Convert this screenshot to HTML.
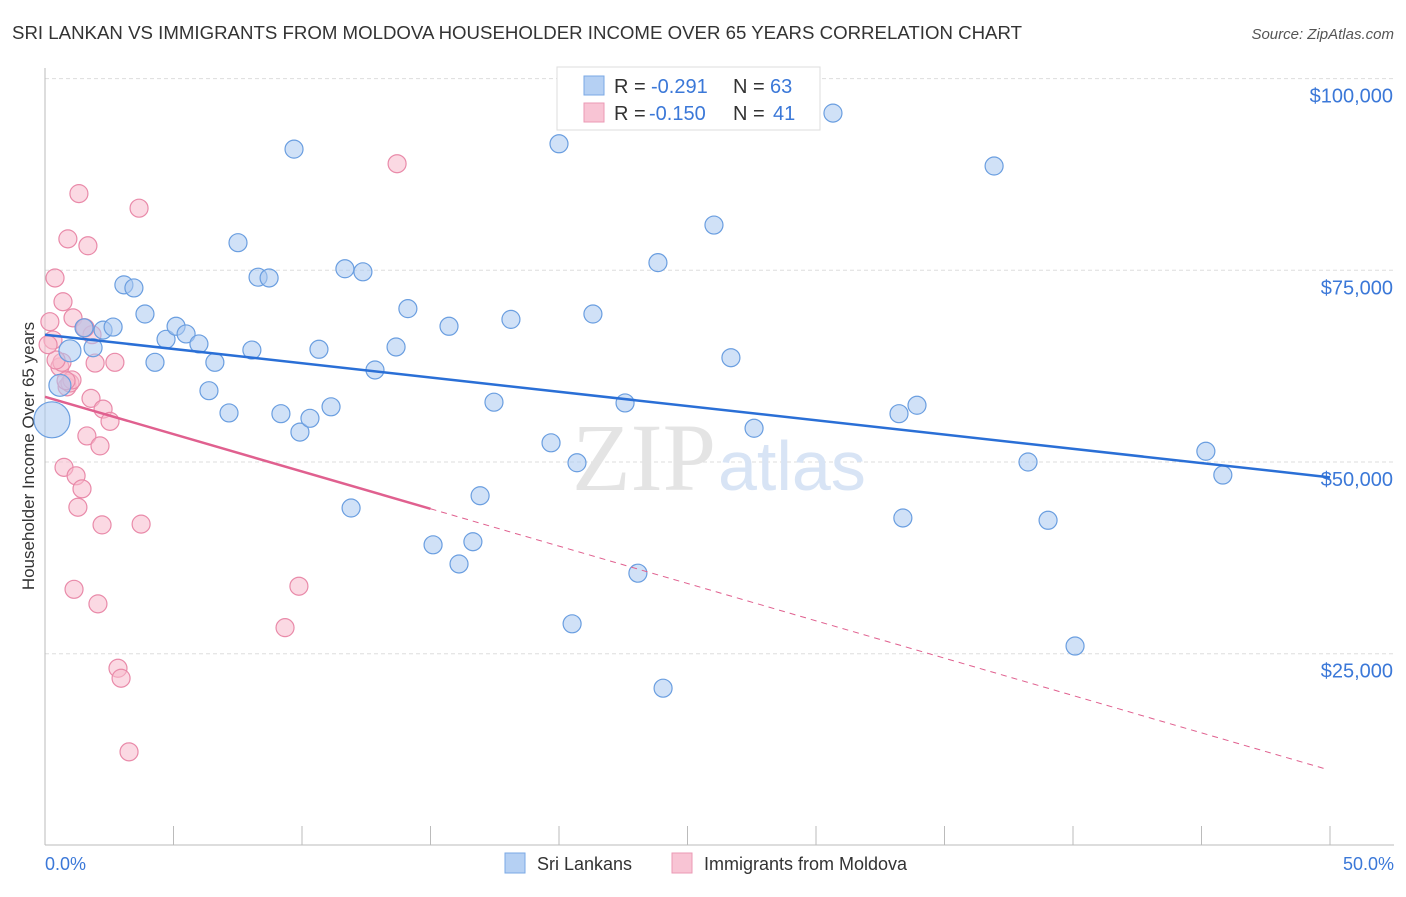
<!DOCTYPE html>
<html><head><meta charset="utf-8"><style>
body{margin:0;background:#fff;font-family:"Liberation Sans",sans-serif}
</style></head><body>
<svg id="chart" width="1406" height="892" xmlns="http://www.w3.org/2000/svg" font-family="Liberation Sans, sans-serif">
<text x="12" y="39" font-size="18" fill="#333" textLength="1010" lengthAdjust="spacingAndGlyphs">SRI LANKAN VS IMMIGRANTS FROM MOLDOVA HOUSEHOLDER INCOME OVER 65 YEARS CORRELATION CHART</text>
<text x="1394" y="39" font-size="15" fill="#555" text-anchor="end" font-style="italic">Source: ZipAtlas.com</text>
<g id="grid"></g>
<text x="716" y="490" font-size="96" fill="#e4e4e4" text-anchor="end" font-family="Liberation Serif, serif">ZIP</text>
<text x="718" y="490" font-size="70" fill="#d8e4f5">atlas</text>
<line x1="45" y1="68" x2="45" y2="845" stroke="#bbb"/>
<line x1="45" y1="845" x2="1394" y2="845" stroke="#bbb"/>
<g id="ticks"></g>
<text transform="translate(34,456) rotate(-90)" font-size="17" fill="#333" text-anchor="middle">Householder Income Over 65 years</text>
<text x="45" y="870" font-size="18" fill="#3b78d8">0.0%</text>
<text x="1394" y="870" font-size="18" fill="#3b78d8" text-anchor="end">50.0%</text>
<g id="pts"></g>
<g id="trends"></g>
<g>
<rect x="557" y="67" width="263" height="63" fill="#fff" stroke="#ddd"/>
<rect x="584" y="76" width="20" height="19" fill="#b5d0f3" stroke="#7aa8e6"/>
<rect x="584" y="103" width="20" height="19" fill="#f8c4d4" stroke="#eb9ab5"/>
<text x="614" y="93" font-size="20" fill="#333">R =</text>
<text x="651" y="93" font-size="20" fill="#3b78d8">-0.291</text>
<text x="733" y="93" font-size="20" fill="#333">N =</text>
<text x="770" y="93" font-size="20" fill="#3b78d8">63</text>
<text x="614" y="120" font-size="20" fill="#333">R =</text>
<text x="649" y="120" font-size="20" fill="#3b78d8">-0.150</text>
<text x="733" y="120" font-size="20" fill="#333">N =</text>
<text x="773" y="120" font-size="20" fill="#3b78d8">41</text>
</g>
<g>
<rect x="505" y="853" width="20" height="20" fill="#b5d0f3" stroke="#7aa8e6"/>
<text x="537" y="870" font-size="18" fill="#333">Sri Lankans</text>
<rect x="672" y="853" width="20" height="20" fill="#f8c4d4" stroke="#eb9ab5"/>
<text x="704" y="870" font-size="18" fill="#333">Immigrants from Moldova</text>
</g>
</svg>
<script>
const yTicks=[25,50,75,100];
const blueX=[0.27,0.97,0.58,1.52,1.87,2.26,2.65,3.07,3.46,3.89,4.28,4.71,5.10,5.49,5.99,6.61,6.38,7.16,7.51,8.05,8.29,8.72,9.18,9.69,9.92,10.31,10.66,11.13,11.67,11.91,12.37,12.84,13.66,14.12,15.10,15.72,16.11,16.65,16.93,17.47,18.13,19.69,20.00,20.51,20.70,21.32,22.57,23.07,23.85,24.05,26.03,26.69,27.59,30.66,33.23,33.38,33.93,36.93,38.25,39.03,40.08,45.17,45.83];
const blueY=[55.5,64.5,60.0,67.5,64.9,67.2,67.6,73.1,72.7,69.3,63.0,66.0,67.7,66.7,65.4,63.0,59.3,56.4,78.6,64.6,74.1,74.0,56.3,90.8,53.9,55.7,64.7,57.2,75.2,44.0,74.8,62.0,65.0,70.0,39.2,67.7,36.7,39.6,45.6,57.8,68.6,52.5,91.5,28.9,49.9,69.3,57.7,35.5,76.0,20.5,80.9,63.6,54.4,95.5,56.3,42.7,57.4,88.6,50.0,42.4,26.0,51.4,48.3];
const pinkX=[0.19,0.31,0.39,0.58,0.66,0.70,0.86,0.89,0.97,1.05,1.09,0.74,1.21,1.28,1.32,1.44,1.52,1.63,1.67,1.79,1.83,1.95,2.06,2.14,2.22,2.26,2.53,2.72,2.84,2.96,3.27,3.66,3.74,1.13,9.34,9.88,13.70,0.43,0.82,0.12,1.56];
const pinkY=[68.3,65.9,74.0,62.4,63.0,70.9,59.8,79.1,60.3,60.7,68.8,49.3,48.2,44.1,85.0,46.5,67.5,53.4,78.2,58.3,66.6,62.9,31.5,52.1,41.8,56.9,55.3,63.0,23.1,21.8,12.2,83.1,41.9,33.4,28.4,33.8,88.9,63.3,60.6,65.3,67.5];
const blueTrend=[66.6,48.0];
const pinkTrend=[58.5,43.9,10.0];
const X=p=>45+p*25.7, Y=v=>462-(v-50)*7.668;
const NS="http://www.w3.org/2000/svg";
function mk(t,a,parent){const e=document.createElementNS(NS,t);for(const k in a)e.setAttribute(k,a[k]);document.getElementById(parent).appendChild(e);return e;}
yTicks.forEach(v=>{
 const l=mk('line',{x1:45,x2:1394,y1:Y(v),y2:Y(v),stroke:'#ddd','stroke-dasharray':'4,3'},'grid');
 
 
 const t=mk('text',{x:1393,y:Y(v)+24,'font-size':20,fill:'#3b78d8','text-anchor':'end'},'grid');
 t.textContent='$'+(v*1000).toLocaleString('en-US');
 
 
});
for(let i=0;i<=10;i++){
 const l=mk('line',{x1:X(i*5),x2:X(i*5),y1:826,y2:845,stroke:'#bbb'},'ticks');
 
 
}
function pts(xs,ys,fill,stroke,name){
 xs.forEach((x,i)=>{
  let r=9; if(name==='sri-lankan-point'&&i===0)r=18; if(name==='sri-lankan-point'&&i===1)r=11; if(name==='sri-lankan-point'&&i===2)r=11;
  const c=mk('circle',{cx:X(x),cy:Y(ys[i]),r:r,fill:fill,'fill-opacity':0.55,stroke:stroke,'stroke-width':1.2},'pts');
  
  
 });
}
pts(pinkX,pinkY,'#f7b9cc','#e98aa9','moldova-point');
pts(blueX,blueY,'#a9c8f0','#6a9ee0','sri-lankan-point');
let l=mk('line',{x1:X(0),y1:Y(blueTrend[0]),x2:X(50),y2:Y(blueTrend[1]),stroke:'#2a6fd6','stroke-width':2.5},'trends');


l=mk('line',{x1:X(0),y1:Y(pinkTrend[0]),x2:X(15),y2:Y(pinkTrend[1]),stroke:'#e0608f','stroke-width':2.5},'trends');


l=mk('line',{x1:X(15),y1:Y(pinkTrend[1]),x2:X(49.8),y2:Y(pinkTrend[2]),stroke:'#e0608f','stroke-width':1,'stroke-dasharray':'6,5'},'trends');


</script>
</body></html>
